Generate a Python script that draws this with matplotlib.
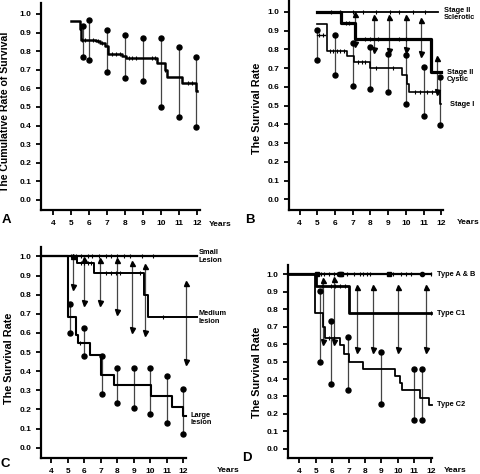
import matplotlib
matplotlib.use("Agg")
import matplotlib.pyplot as plt
import numpy as np

plt.rcParams['font.family'] = ['Liberation Sans', 'DejaVu Sans']
plt.rcParams['font.weight'] = 'bold'

W, H = 480, 474

# --- Panel A: overall survival ---
A_t = [5.0, 5.5, 5.55, 6.4, 6.6, 6.9, 7.05, 7.85, 8.05, 9.8, 10.2, 10.35, 11.15, 11.95, 12.02]
A_s = [0.96, 0.92, 0.86, 0.855, 0.845, 0.83, 0.785, 0.775, 0.762, 0.735, 0.70, 0.66, 0.63, 0.585, 0.585]
A_cens = [5.6, 5.8, 6.2, 6.5, 6.75, 7.3, 7.5, 7.7, 8.2, 8.4, 8.6, 9.5, 9.65, 10.25, 11.5, 11.7]
A_bar_x = [5.65, 6.0, 7.0, 8.0, 9.0, 10.0, 11.0, 11.97]
A_bar_hi = [0.935, 0.967, 0.916, 0.885, 0.87, 0.87, 0.822, 0.77]
A_bar_lo = [0.77, 0.753, 0.686, 0.657, 0.64, 0.50, 0.444, 0.39]

# --- Panel B: stage ---
B_scl_t = [5.0, 11.8]
B_scl_s = [1.0, 1.0]
B_scl_cens = [5.8, 6.3, 7.0, 7.6, 8.3, 9.1, 9.6, 10.4, 11.1]
B_cys_t = [5.0, 6.35, 7.13, 11.4, 12.0]
B_cys_s = [1.0, 0.938, 0.855, 0.681, 0.681]
B_cys_cens = [6.6, 6.8, 7.7, 8.0, 8.4, 9.6, 10.0]
B_st1_t = [5.0, 5.57, 6.66, 7.05, 7.98, 9.77, 10.05, 10.2, 11.93, 12.0]
B_st1_s = [0.935, 0.79, 0.763, 0.731, 0.70, 0.665, 0.616, 0.571, 0.51, 0.51]
B_st1_cens = [5.7, 5.9, 6.1, 6.3, 6.5, 7.3, 7.5, 7.7, 8.3, 9.3, 10.5, 10.8, 11.2, 11.5, 11.8]
B_st1_early_t = [5.0, 5.45]
B_st1_early_s = [0.875, 0.875]
B_st1_early_cens = [5.1, 5.3]
B_st1_bar_x = [5.0, 6.0, 7.0, 8.0, 9.0, 10.0, 11.0, 11.93]
B_st1_bar_hi = [0.903, 0.876, 0.832, 0.81, 0.775, 0.77, 0.704, 0.651]
B_st1_bar_lo = [0.745, 0.665, 0.603, 0.587, 0.571, 0.51, 0.442, 0.395]
B_cys_bar_x = [7.15, 8.2, 9.05, 10.0, 10.85, 11.78]
B_cys_bar_hi = [0.99, 0.97, 0.975, 0.975, 0.955, 0.752]
B_cys_bar_lo = [0.83, 0.797, 0.793, 0.797, 0.775, 0.57]

# --- Panel C: lesion size ---
C_small_t = [3.375, 12.85]
C_small_s = [1.0, 1.0]
C_small_cens = [5.2, 5.5, 5.8, 6.2, 6.5, 6.9, 7.3, 7.6, 8.0, 8.4, 8.8, 9.5, 10.2]
C_med_t = [3.375, 5.58, 6.6, 9.65, 9.85, 12.85]
C_med_s = [1.0, 0.964, 0.911, 0.80, 0.681, 0.681]
C_med_cens = [5.8, 6.0, 6.2, 6.4, 7.3, 7.6, 7.9, 8.2, 9.4, 10.8]
C_lrg_t = [3.375, 5.03, 5.52, 5.62, 6.38, 7.0, 7.8, 10.05, 11.35, 12.0, 12.2]
C_lrg_s = [1.0, 0.685, 0.59, 0.545, 0.485, 0.38, 0.325, 0.27, 0.215, 0.165, 0.165]
C_lrg_cens = [5.75]
C_med_bar_x = [5.33, 6.0, 6.96, 8.0, 8.9, 9.7, 12.2]
C_med_bar_hi = [1.0, 0.985, 0.98, 0.98, 0.963, 0.95, 0.859]
C_med_bar_lo = [0.841, 0.754, 0.754, 0.711, 0.615, 0.601, 0.449]
C_lrg_bar_x = [5.15, 6.0, 7.1, 8.0, 9.0, 10.0, 11.0, 12.0]
C_lrg_bar_hi = [0.75, 0.627, 0.479, 0.418, 0.418, 0.418, 0.373, 0.305]
C_lrg_bar_lo = [0.60, 0.477, 0.282, 0.235, 0.206, 0.174, 0.13, 0.07]

# --- Panel D: type ---
D_ab_t = [3.31, 12.0]
D_ab_s = [1.0, 1.0]
D_ab_cens = [5.3, 5.5, 5.8, 6.1, 6.3, 6.9, 7.3, 7.7, 7.9, 8.1, 8.3, 9.7, 10.2, 10.5, 10.8, 12.0]
D_ab_sq = [5.05, 6.45, 6.55, 9.45]
D_ab_dot = [11.5]
D_c1_t = [3.31, 5.0, 7.05, 12.0]
D_c1_s = [1.0, 0.935, 0.776, 0.776]
D_c1_cens = [5.4, 5.9, 6.2, 6.5, 6.8, 12.0]
D_c2_t = [3.31, 4.95, 5.46, 5.55, 6.5, 6.75, 7.0, 7.9, 9.83, 10.1, 10.25, 11.35, 11.92, 12.05]
D_c2_s = [1.0, 0.78, 0.70, 0.635, 0.595, 0.545, 0.50, 0.46, 0.42, 0.38, 0.335, 0.29, 0.25, 0.25]
D_c2_cens = [5.8, 6.1]
D_c1_bar_x = [5.42, 6.13, 7.49, 8.5, 10.03, 11.7]
D_c1_bar_hi = [0.97, 0.975, 0.93, 0.93, 0.93, 0.93]
D_c1_bar_lo = [0.61, 0.61, 0.565, 0.565, 0.565, 0.565]
D_c2_bar_x = [5.26, 5.95, 6.95, 8.97, 11.0, 11.5]
D_c2_bar_hi = [0.905, 0.73, 0.64, 0.555, 0.46, 0.46]
D_c2_bar_lo = [0.50, 0.37, 0.335, 0.255, 0.165, 0.165]

years = list(range(4, 13))
yvals = [i / 10 for i in range(11)]


def rect(l, r, t, b):
    return [l / W, 1 - b / H, (r - l) / W, (b - t) / H]


def setup(ax, xlim, ylim, xbound):
    ax.set_xlim(*xlim)
    ax.set_ylim(*ylim)
    for s in ['top', 'right']:
        ax.spines[s].set_visible(False)
    for s in ['left', 'bottom']:
        ax.spines[s].set_linewidth(1.6)
    ax.spines['bottom'].set_bounds(xlim[0], xbound)
    ax.set_xticks(years)
    ax.set_xticklabels([str(y) for y in years], fontsize=6, fontweight='bold')
    ax.set_yticks(yvals)
    ax.set_yticklabels(['%.1f' % v for v in yvals], fontsize=6, fontweight='bold')
    ax.tick_params(axis='both', length=3.5, width=1.3, pad=3.5)
    ax.patch.set_alpha(0)


def curve(ax, t, s, cens=None, lw=1.4):
    ax.plot(t, s, drawstyle='steps-post', color='black', lw=lw, clip_on=False)
    if cens:
        idx = np.searchsorted(t, cens, side='right') - 1
        ax.plot(cens, np.array(s)[idx], ls='none', marker='|', ms=3, mew=0.8,
                color='black', clip_on=False)


def dot_bars(ax, x, hi, lo):
    ax.vlines(x, lo, hi, color='#444444', lw=0.9)
    ax.plot(x + x, hi + lo, 'o', color='black', ms=3.6, ls='none')


def arrow_bars(ax, x, hi, lo):
    ax.vlines(x, lo, hi, color='#444444', lw=0.9)
    ax.plot(x, hi, '^', color='black', ms=3.6, ls='none')
    ax.plot(x, lo, 'v', color='black', ms=3.6, ls='none')


def ftext(x, y, s, **kw):
    fig.text(x / W, 1 - y / H, s, fontweight='bold', **kw)


fig = plt.figure(figsize=(4.8, 4.74), dpi=100)

# A
axA = fig.add_axes(rect(41, 200, 3, 210))
setup(axA, (3.333, 12.17), (-0.054, 1.059), 12.17)
dot_bars(axA, A_bar_x, A_bar_hi, A_bar_lo)
curve(axA, A_t, A_s, A_cens, lw=1.8)

# B
axB = fig.add_axes(rect(289, 443, 1, 210))
setup(axB, (3.40, 12.1), (-0.057, 1.058), 12.1)
dot_bars(axB, B_st1_bar_x, B_st1_bar_hi, B_st1_bar_lo)
arrow_bars(axB, B_cys_bar_x, B_cys_bar_hi, B_cys_bar_lo)
curve(axB, B_scl_t, B_scl_s, B_scl_cens, lw=1.3)
curve(axB, B_st1_t, B_st1_s, B_st1_cens, lw=1.2)
curve(axB, B_st1_early_t, B_st1_early_s, B_st1_early_cens, lw=1.0)
curve(axB, B_cys_t, B_cys_s, B_cys_cens, lw=2.3)
axB.text(12.16, 0.99, 'Stage II\nSclerotic', fontsize=5.3, fontweight='bold',
         va='center', ha='left', linespacing=1.0)
axB.text(12.31, 0.657, 'Stage II\nCystic', fontsize=5.3, fontweight='bold',
         va='center', ha='left', linespacing=1.0)
axB.text(12.5, 0.506, 'Stage I', fontsize=5.3, fontweight='bold',
         va='center', ha='left')

# C
axC = fig.add_axes(rect(41, 197, 247, 458))
setup(axC, (3.375, 12.85), (-0.054, 1.049), 12.2)
arrow_bars(axC, C_med_bar_x, C_med_bar_hi, C_med_bar_lo)
dot_bars(axC, C_lrg_bar_x, C_lrg_bar_hi, C_lrg_bar_lo)
curve(axC, C_small_t, C_small_s, C_small_cens, lw=1.6)
curve(axC, C_med_t, C_med_s, C_med_cens, lw=1.4)
curve(axC, C_lrg_t, C_lrg_s, C_lrg_cens, lw=1.5)
axC.text(12.95, 1.0, 'Small\nLesion', fontsize=5.3, fontweight='bold',
         va='center', ha='left', linespacing=1.1)
axC.text(12.93, 0.68, 'Medium\nlesion', fontsize=5.3, fontweight='bold',
         va='center', ha='left', linespacing=1.1)
axC.text(12.45, 0.15, 'Large\nlesion', fontsize=5.3, fontweight='bold',
         va='center', ha='left', linespacing=1.1)

# D
axD = fig.add_axes(rect(288, 433, 265, 458))
setup(axD, (3.31, 12.14), (-0.053, 1.054), 12.06)
arrow_bars(axD, D_c1_bar_x, D_c1_bar_hi, D_c1_bar_lo)
dot_bars(axD, D_c2_bar_x, D_c2_bar_hi, D_c2_bar_lo)
curve(axD, D_ab_t, D_ab_s, D_ab_cens, lw=1.6)
axD.plot(D_ab_sq, [1.0] * len(D_ab_sq), 's', color='black', ms=3)
axD.plot(D_ab_dot, [1.0] * len(D_ab_dot), 'o', color='black', ms=3)
curve(axD, D_c2_t, D_c2_s, D_c2_cens, lw=1.3)
curve(axD, D_c1_t, D_c1_s, D_c1_cens, lw=2.0)
axD.text(12.38, 1.0, 'Type A & B', fontsize=5.3, fontweight='bold', va='center', ha='left')
axD.text(12.38, 0.776, 'Type C1', fontsize=5.3, fontweight='bold', va='center', ha='left')
axD.text(12.38, 0.255, 'Type C2', fontsize=5.3, fontweight='bold', va='center', ha='left')

# y labels, panel letters, "Years"
ftext(5, 112, 'The Cumulative Rate of Survival', fontsize=7.6, rotation=90, ha='center', va='center')
ftext(257.5, 108, 'The Survival Rate', fontsize=7.8, rotation=90, ha='center', va='center')
ftext(9, 358, 'The Survival Rate', fontsize=7.8, rotation=90, ha='center', va='center')
ftext(257.5, 372, 'The Survival Rate', fontsize=7.8, rotation=90, ha='center', va='center')
for x, y, s in [(6.5, 220, 'A'), (250, 220, 'B'), (5, 464, 'C'), (247, 458, 'D')]:
    ftext(x, y, s, fontsize=9.5, ha='center', va='center')
for x, y in [(220.5, 224), (468, 223), (228.5, 470), (455, 470)]:
    ftext(x, y, 'Years', fontsize=6, ha='center', va='center')

fig.savefig('out.png', dpi=100)
